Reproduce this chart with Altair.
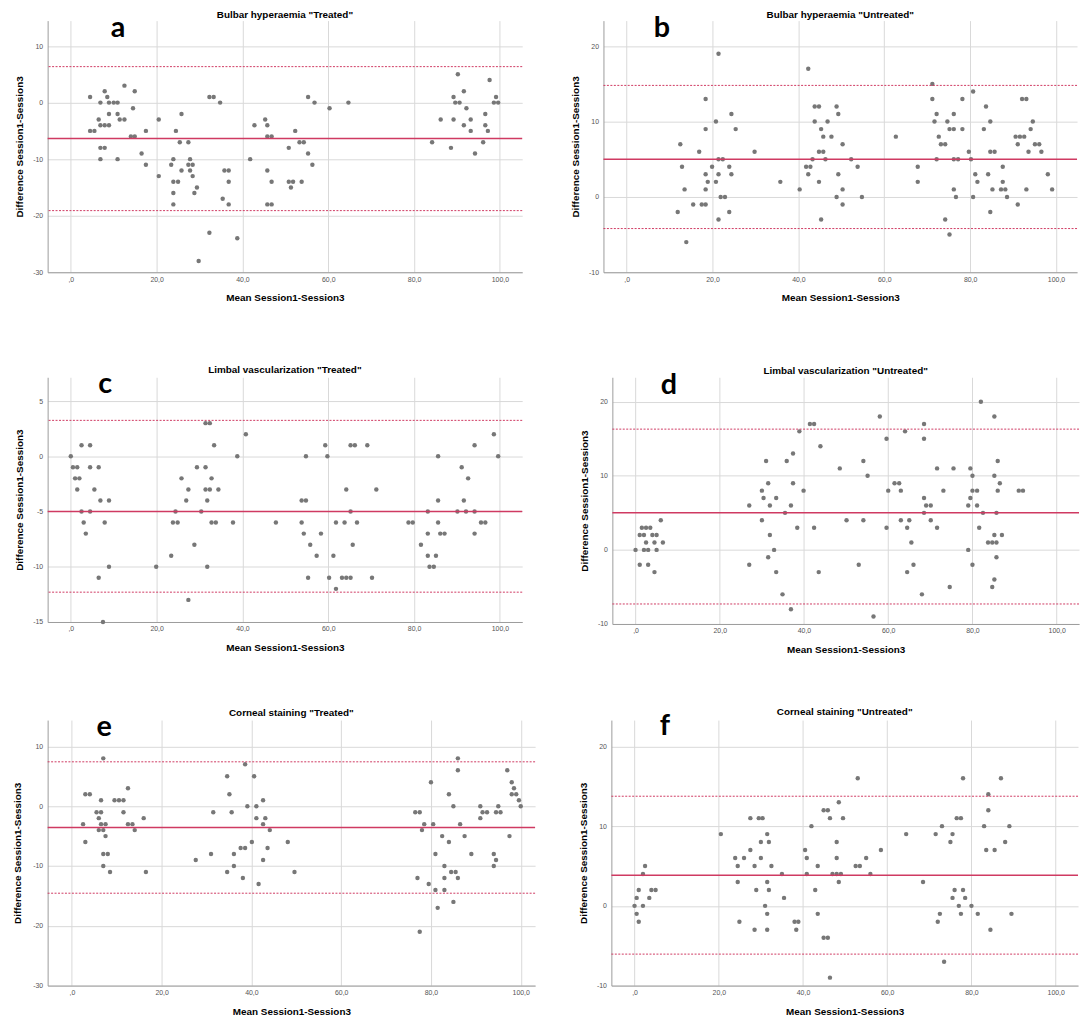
import altair as alt
import pandas as pd

titles = ['Bulbar hyperaemia "Treated"', 'Bulbar hyperaemia "Untreated"',
          'Limbal vascularization "Treated"', 'Limbal vascularization "Untreated"',
          'Corneal staining "Treated"', 'Corneal staining "Untreated"']
letters = ['a', 'b', 'c', 'd', 'e', 'f']

pts_a = [(4.5,1),(4.5,-5),(5.5,-5),(6.5,-3),(6.9,0),(6.9,-4),(6.9,-8),(6.9,-10),(7.9,2),(7.9,-4),(7.9,-8),
         (8.5,1),(8.9,0),(8.9,-2),(8.9,-4),(10,0),(10.9,0),(10.9,-2),(10.9,-10),(11.4,-3),(12.5,3),(12.5,-3),
         (14,-6),(14.5,-1),(14.9,2),(14.9,-6),(16.5,-9),(17.5,-5),(17.5,-11),(20.5,-3),(20.5,-13),(23.4,-11),
         (23.9,-10),(23.9,-14),(23.9,-16),(23.9,-18),(24.5,-5),(25,-14),(25.4,-7),(25.8,-2),(25.8,-12),
         (27.4,-7),(27.4,-11),(27.8,-10),(27.8,-12),(28.4,-11),(28.4,-13),(28.8,-16),(29.4,-15),(29.8,-28),
         (32.3,1),(32.3,-23),(33.3,1),(34.8,0),(35.4,-17),(35.8,-12),(36.8,-12),(36.8,-14),(36.8,-18),
         (38.8,-24),(41.8,-10),(42.8,-4),(45.3,-3),(45.8,-4),(45.8,-6),(45.8,-12),(45.8,-18),(46.8,-6),
         (46.8,-14),(46.8,-18),(50.8,-8),(50.8,-14),(51.8,-14),(51.3,-15),(52.3,-5),(53.3,-7),(54.3,-7),
         (53.8,-14),(55.3,1),(55.3,-9),(56.3,-11),(56.8,0),(60.3,-1),(64.7,0),(84.2,-7),(86.2,-3),(88.6,-8),
         (89.2,1),(89.2,-3),(89.6,0),(90.2,5),(90.6,0),(91.6,2),(91.6,-4),(92.2,-1),(93.2,-3),(93.2,-5),
         (94.2,-9),(96.1,-7),(96.6,-2),(96.6,-4),(97.2,-5),(97.6,4),(98.6,0),(99.1,1),(99.6,0)]

pts_b = [(11.9,-2),(12.5,7),(12.9,4),(13.5,1),(13.9,-6),(15.5,-1),(16.9,6),(17.5,-1),(18.4,13),(18.4,9),
         (18.4,3),(18.4,1),(18.4,-1),(18.9,2),(19.9,4),(20.8,10),(20.8,2),(21.4,19),(21.4,5),(21.4,3),
         (21.4,-3),(22.4,5),(21.9,0),(22.9,0),(23.9,4),(23.9,-2),(24.4,11),(24.4,3),(25.4,9),(29.8,6),
         (35.8,2),(40.3,1),(42.3,17),(41.8,4),(42.8,4),(42.3,3),(43.3,5),(43.8,12),(44.8,12),(43.8,10),
         (45.3,9),(44.8,6),(45.8,8),(45.8,6),(46.3,5),(44.8,2),(45.3,-3),(46.8,10),(47.7,8),(48.9,12),
         (49.3,11),(49.3,3),(48.9,0),(50.3,7),(50.3,1),(50.3,-1),(52.3,5),(53.8,4),(54.8,0),(62.7,8),
         (67.8,4),(67.8,2),(71.2,15),(71.2,13),(71.7,10),(72.2,11),(72.2,5),(72.7,8),(73.2,7),(74.2,7),
         (74.2,-3),(74.7,10),(75.2,9),(76.2,9),(75.2,-5),(76.2,11),(76.2,5),(77.2,5),(76.2,1),(76.7,0),
         (78.2,13),(78.2,9),(79.7,6),(80.2,5),(80.7,14),(80.7,0),(81.2,3),(81.7,2),(83.2,9),(83.7,12),
         (84.2,3),(84.7,10),(84.7,6),(85.7,6),(84.7,-2),(85.2,1),(87.2,1),(88.2,1),(87.6,4),(87.6,2),
         (88.6,0),(90.6,8),(91.6,8),(92.6,8),(91.1,7),(91.1,-1),(92.1,13),(93.1,13),(93.1,1),(93.6,6),
         (94.1,9),(94.6,10),(95.1,7),(96.1,7),(96.6,6),(98.1,3),(99.1,1)]

pts_c = [(0,0),(0.5,-1),(1.5,-1),(1,-2),(2,-2),(1.5,-3),(2.5,1),(2.5,-5),(3,-6),(3.5,-7),(4.5,1),(4.5,-1),
         (4.5,-5),(5.5,-3),(6.5,-1),(6.5,-11),(6.9,-4),(7.5,-15),(7.9,-6),(8.9,-4),(8.9,-10),(19.9,-10),
         (23.4,-9),(23.8,-6),(24.4,-5),(24.9,-6),(25.8,-2),(26.9,-4),(27.4,-3),(27.4,-13),(28.8,-8),
         (29.4,-1),(30.4,-5),(31.4,3),(32.4,3),(31.4,-1),(31.4,-3),(32.4,-3),(31.8,-4),(31.8,-10),
         (32.8,-2),(32.8,-6),(33.4,1),(33.8,-6),(34.4,-3),(37.8,-6),(38.8,0),(40.8,2),(47.8,-6),
         (53.8,-4),(54.8,-4),(53.8,-6),(54.3,-7),(54.8,0),(55.3,-11),(55.8,-8),(57.3,-9),(58.3,-7),
         (59.3,1),(59.8,0),(60.2,-11),(61.2,-9),(61.8,-6),(61.8,-12),(63.2,-11),(64.2,-11),(65.2,-11),
         (63.8,-6),(64.2,-3),(65.2,1),(66.2,1),(65.2,-5),(65.7,-8),(66.7,-6),(69.1,1),(70.2,-11),
         (71.2,-3),(78.7,-6),(79.7,-6),(81.6,-8),(83.2,-5),(83.2,-7),(83.2,-9),(83.6,-10),(84.6,-10),
         (85.1,-9),(85.6,0),(85.6,-4),(85.6,-6),(86.1,-7),(87.1,-7),(90.1,-5),(91.1,-1),(91.6,-4),
         (92.1,-5),(92.6,-2),(94.1,1),(94.1,-5),(94.1,-7),(95.6,-6),(96.6,-6),(98.6,2),(99.6,0)]

pts_d = [(0,0),(1,-2),(1,2),(1.5,3),(2,2),(2,0),(2.5,3),(2.5,1),(3,0),(3,-2),(3.5,3),(4,2),(4.5,1),
         (4.5,-3),(5,2),(5,0),(6,4),(6.5,1),(27,6),(27,-2),(30,8),(30,4),(30.4,7),(31,12),(31.5,9),
         (31.5,-1),(31.9,6),(31.9,2),(32.9,0),(33.4,7),(33.4,-3),(34.9,-6),(35.5,5),(35.9,12),(36.9,6),
         (36.9,-8),(37.4,13),(37.4,9),(38.4,3),(38.9,16),(39.9,8),(41.4,17),(42.4,17),(42.4,3),(43.5,-3),
         (43.9,14),(48.5,11),(50.1,4),(53.0,-2),(54.1,12),(54.1,4),(55.1,10),(56.5,-9),(58,18),(59.6,15),
         (59.6,3),(60,8),(61.5,9),(62.6,9),(63,8),(63,4),(64,16),(64.5,3),(64.5,-3),(65,4),(65.5,1),
         (66,-2),(68,-6),(68.5,17),(68.5,15),(68.5,7),(68.5,5),(69,6),(70.1,6),(70.1,4),(71.6,11),
         (71.6,3),(73.1,8),(74.6,-5),(75.5,11),(79,6),(79,0),(79.5,11),(79.5,7),(80,10),(80,8),(81.1,8),
         (80,-2),(81.1,6),(81.6,3),(82,20),(82.5,5),(83.7,1),(84.7,1),(85.7,1),(84.7,-5),(85.2,18),
         (85.2,10),(85.2,2),(85.2,-4),(85.7,5),(85.7,-1),(86,12),(86,8),(86.5,9),(87,2),(91,8),(92,8)]

pts_e = [(2.5,-3),(3,2),(3,-6),(4,2),(5.5,-1),(6,-2),(6,-4),(6.5,1),(6.5,-1),(6.5,-3),(7,8),(7,-4),
         (7,-8),(7,-10),(7.5,-3),(7.5,-5),(8,-8),(8.5,-11),(9.5,1),(10.5,1),(11.5,1),(11.5,-1),(12.5,3),
         (12.5,-3),(13.5,-3),(14,-4),(16,-2),(16.5,-11),(27.6,-9),(31,-8),(31.5,-1),(34.6,5),(34.6,-11),
         (35.1,2),(35.6,-1),(36.1,-8),(36.1,-10),(37.6,-7),(38.1,-12),(38.6,7),(38.6,-7),(39.1,0),
         (40.1,-6),(40.6,5),(41.1,0),(41.1,-2),(41.6,-13),(42.6,1),(42.6,-3),(42.6,-9),(43.1,-2),
         (43.6,-7),(44.1,-4),(48.1,-6),(49.6,-11),(76.5,-1),(77.5,-1),(77.0,-12),(77.5,-21),(78.0,-4),
         (78.5,-3),(79.5,-13),(80.0,4),(80.5,-3),(81.0,-8),(81.0,-14),(81.5,-17),(82.5,-5),(83.0,-10),
         (83.0,-12),(83.0,-14),(84.0,2),(84.0,-6),(84.5,-11),(85.0,0),(85.0,-16),(85.5,-11),(86.0,8),
         (86.0,6),(86.0,-12),(86.5,-3),(87.5,-5),(89.0,-8),(91.0,0),(91.0,-2),(91.5,-1),(92.5,-1),
         (94.0,-8),(94.5,-9),(94.0,-10),(94.5,-1),(95.5,-1),(95.0,0),(97.0,6),(97.5,-5),(98.0,4),
         (98.5,3),(98.0,2),(99.0,2),(99.6,1),(100.0,0)]

pts_f = [(0,0),(0.5,1),(0.5,-1),(1,2),(1,-2),(2,4),(2,0),(2.5,5),(3.5,1),(4,2),(5,2),(20.5,9),(23.9,6),
         (24.5,5),(24.5,3),(24.9,-2),(26,6),(27.5,11),(27.5,7),(28.5,5),(28.5,-3),(28.9,2),(29.5,11),
         (30.4,11),(30,8),(30,6),(31,0),(31.5,9),(31.5,3),(31.5,-1),(31.5,-3),(31.9,8),(31.9,2),(32.5,5),
         (35,4),(35.5,1),(38,-2),(38.9,-2),(38.4,-3),(40.5,7),(40.9,6),(40.9,4),(42,10),(42.9,2),(43.5,5),
         (43.5,-1),(44.9,12),(45.9,12),(44.9,-4),(45.9,-4),(46.4,11),(46.4,-9),(47.0,4),(48.0,4),(49.0,4),
         (48.0,8),(48.0,6),(48.5,13),(48.5,3),(49.5,11),(52.5,5),(53.5,5),(53.0,16),(55.0,6),(56.0,4),
         (58.5,7),(64.5,9),(68.5,3),(71.5,9),(72.0,-2),(72.5,-1),(73.0,10),(73.5,-7),(75.0,8),(75.5,9),
         (75.5,1),(76.0,2),(76.5,11),(77.5,11),(77.0,0),(77.5,-1),(78.0,16),(78.0,2),(78.5,1),(80.0,0),
         (81.5,-1),(83.0,10),(83.5,7),(84.0,14),(84.0,12),(84.5,-3),(85.5,7),(87.0,16),(88.0,8),(89.0,10),
         (89.5,-1)]

points = [pts_a, pts_b, pts_c, pts_d, pts_e, pts_f]
means = [-6.35, 5.0, -5.0, 5.0, -3.55, 3.85]
upper = [6.36, 14.8, 3.25, 16.3, 7.42, 13.75]
lower = [-19.1, -4.2, -12.3, -7.3, -14.55, -6.05]

x_ticks = [0, 20, 40, 60, 80, 100]
y_ticks = [[-30, -20, -10, 0, 10], [-10, 0, 10, 20], [-15, -10, -5, 0, 5],
           [-10, 0, 10, 20], [-30, -20, -10, 0, 10], [-10, 0, 10, 20]]
x_domains = [[-5.4, 105.2], [-5.4, 104.9], [-5.4, 105.2], [-5.5, 105.3], [-5.4, 103.2], [-5.5, 105.3]]
y_domains = [[-30, 14.5], [-10, 23.4], [-15, 7.15], [-10, 23.3], [-30, 14.4], [-10, 23.3]]

widths = [479, 478, 479, 471, 492, 471]
heights = [254, 254, 247, 249, 268, 268]
title_offsets = [-5, -5, -5, -5, -5, -5]
y_extents = [15, 15, 15, 15, 17, 15]
letter_x = [71, 59, 58, 57, 57, 54]
letter_y = [17, 17, 16, 16.5, 16, 15.3]

RED = "#cf3a62"
XT = "Mean Session1-Session3"
YT = "Difference Session1-Session3"
x_label_expr = "datum.value == 0 ? ',0' : replace(format(datum.value, '.1f'), '.', ',')"
y_label_expr = "'' + datum.value"


def panel(i):
    df = pd.DataFrame(points[i], columns=["x", "y"])
    xs = alt.Scale(domain=x_domains[i], nice=False, zero=False)
    ys = alt.Scale(domain=y_domains[i], nice=False, zero=False)
    yaxis = alt.Axis(values=y_ticks[i], labelExpr=y_label_expr,
                     minExtent=y_extents[i], maxExtent=y_extents[i])
    xaxis = alt.Axis(values=x_ticks, labelExpr=x_label_expr)
    pts = alt.Chart(df).mark_circle(size=20, color="#777777", opacity=1).encode(
        x=alt.X("x:Q", scale=xs, axis=xaxis, title=XT),
        y=alt.Y("y:Q", scale=ys, axis=yaxis, title=YT),
    )
    mean_rule = alt.Chart(pd.DataFrame({"y": [means[i]]})).mark_rule(
        color=RED, strokeWidth=1.5).encode(y=alt.Y("y:Q", title=YT))
    loa_rule = alt.Chart(pd.DataFrame({"y": [upper[i], lower[i]]})).mark_rule(
        color=RED, strokeWidth=1, strokeDash=[2, 1.5]).encode(y=alt.Y("y:Q", title=YT))
    letter = alt.Chart(pd.DataFrame({"t": [letters[i]]})).mark_text(
        font="Lato", fontWeight="bold", fontSize=29, align="center",
        baseline="alphabetic", color="#000000").encode(
        text="t:N", x=alt.value(letter_x[i]), y=alt.value(letter_y[i]))
    return alt.layer(pts, mean_rule, loa_rule, letter).properties(
        width=widths[i], height=heights[i],
        title=alt.TitleParams(titles[i], offset=title_offsets[i], anchor="middle", frame="group"))


row1 = alt.hconcat(panel(0), panel(1), spacing=48)
row2 = alt.hconcat(panel(2), panel(3), spacing=57)
row3 = alt.hconcat(panel(4), panel(5), spacing=43)

chart = alt.vconcat(alt.vconcat(row1, row2, spacing=63), row3, spacing=53).properties(
    padding={"left": 5, "top": -3, "right": 0, "bottom": 0}
).configure_view(stroke=None).configure_axis(
    grid=True, gridColor="#d9d9d9", gridWidth=1,
    domainColor="#9c9c9c", domainWidth=1, ticks=False,
    labelFont="Liberation Sans", labelFontSize=7, labelColor="#555555",
    titleFont="Liberation Sans", titleFontSize=10, titleFontWeight="bold", titleColor="#000000",
).configure_axisX(labelPadding=3, titlePadding=11).configure_axisY(
    labelPadding=5, titlePadding=8
).configure_title(
    font="Liberation Sans", fontSize=10, fontWeight="bold", color="#000000"
)

chart.save("out.html", embed_options={"renderer": "svg", "actions": False})
